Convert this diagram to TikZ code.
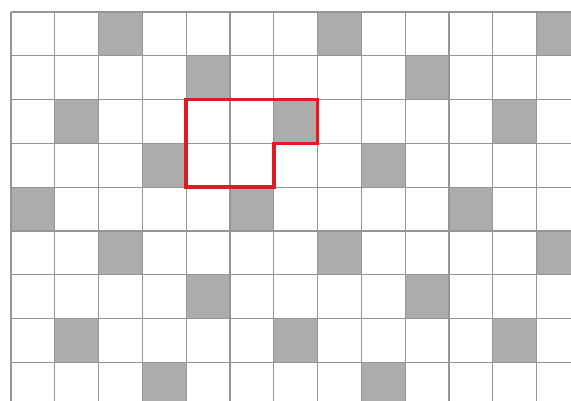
\documentclass[tikz,border=0pt]{standalone}
\definecolor{cellgray}{RGB}{172,172,172}
\definecolor{linegray}{RGB}{150,150,150}
\definecolor{outlinered}{RGB}{222,28,36}
\tikzset{
  cellfill/.style={fill=cellgray},
  gridline/.style={draw=linegray, line width=1.1pt},
  redoutline/.style={draw=outlinered, line width=3.6pt, line join=miter}
}
\begin{document}
\begin{tikzpicture}[x=1pt,y=-1pt]
\useasboundingbox (0,0) rectangle (571,400);
\fill[white] (0,0) rectangle (571,400);
\begin{scope}
\clip (0,0) rectangle (571,400);
\def\s{43.8}
\foreach \r in {0,...,8} {
  \foreach \c in {0,...,12} {
    \pgfmathtruncatemacro\m{mod(\c-2*\r-2+50,5)}
    \ifnum\m=0
      \fill[cellfill] ({11+\c*\s},{12+\r*\s}) rectangle ++(\s,\s);
    \fi
  }
}
\foreach \c in {0,...,13} {
  \draw[gridline] ({11+\c*\s},12) -- ({11+\c*\s},410);
}
\foreach \r in {0,...,9} {
  \draw[gridline] (11,{12+\r*\s}) -- (580,{12+\r*\s});
}
\coordinate (p1) at ({11+4*\s},{12+2*\s});
\coordinate (p2) at ({11+7*\s},{12+2*\s});
\coordinate (p3) at ({11+7*\s},{12+3*\s});
\coordinate (p4) at ({11+6*\s},{12+3*\s});
\coordinate (p5) at ({11+6*\s},{12+4*\s});
\coordinate (p6) at ({11+4*\s},{12+4*\s});
\draw[redoutline] (p1) -- (p2) -- (p3) -- (p4) -- (p5) -- (p6) -- cycle;
\end{scope}
\end{tikzpicture}
\end{document}
